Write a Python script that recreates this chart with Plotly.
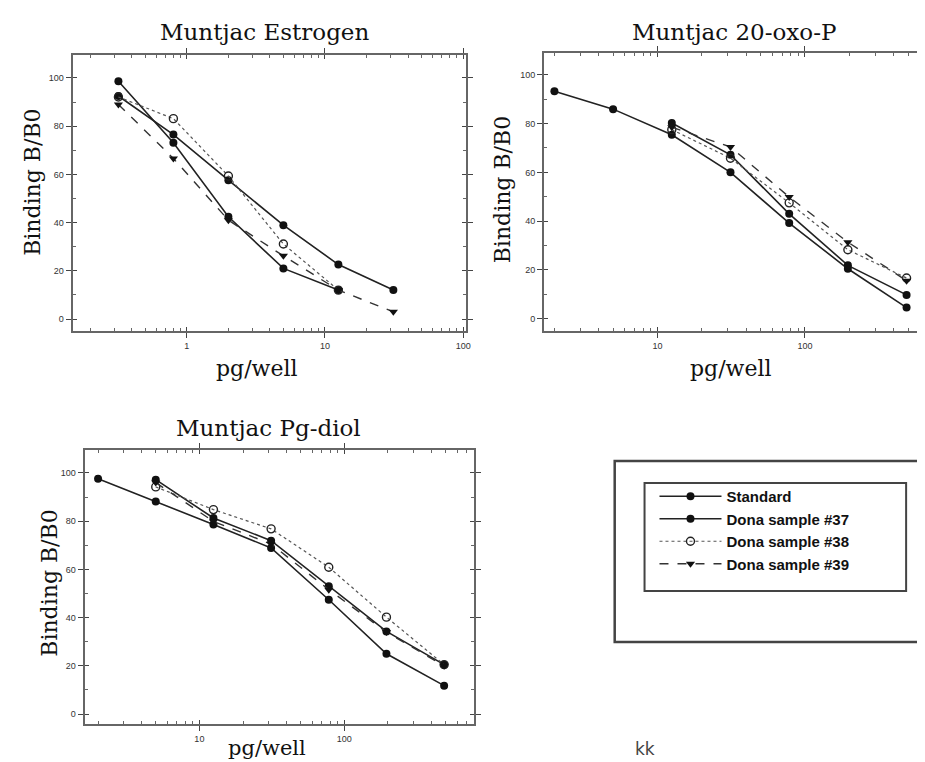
import plotly.graph_objects as go

W, H = 925, 762

# ---------------- data ----------------
series_names = ["Standard", "Dona sample #37", "Dona sample #38", "Dona sample #39"]

x_est = [0.32, 0.8, 2, 5, 12.5, 31.25]
est_standard = [92.5, 76.5, 57.6, 38.9, 22.6, 12.0]
est_d37 = [98.6, 73.1, 42.4, 21.0, 12.0]
est_d38 = [92.1, 83.1, 59.3, 31.1, 12.0]
est_d39 = [89.0, 66.6, 41.0, 26.2, 12.0, 3.0]

x_oxo = [2, 5, 12.5, 31.25, 78.125, 195.3, 488.3]
oxo_standard = [93.2, 85.9, 75.4, 60.0, 39.2, 20.5, 4.6]
oxo_d37 = [80.2, 67.2, 43.0, 21.9, 9.8]
oxo_d38 = [77.5, 65.8, 47.5, 28.3, 16.7]
oxo_d39 = [78.5, 70.4, 49.9, 31.4, 15.6]

x_diol = [2, 5, 12.5, 31.25, 78.125, 195.3, 488.3]
diol_standard = [97.6, 88.2, 78.6, 68.9, 47.4, 25.0, 11.8]
diol_d37 = [97.2, 81.3, 71.9, 53.0, 34.3, 20.5]
diol_d38 = [94.2, 84.8, 76.8, 60.9, 40.2, 20.5]
diol_d39 = [96.0, 79.9, 70.5, 51.6, 34.0, 20.0]

titles = ["Muntjac Estrogen", "Muntjac 20-oxo-P", "Muntjac Pg-diol"]
y_title = "Binding B/B0"
x_title = "pg/well"
x_tickvals = [1, 10, 100]
x_ticktext = ["1", "10", "100"]
y_tickvals = [0, 20, 40, 60, 80, 100]

# ---------------- helpers ----------------
def px(x):
    return x / W

def py(y):
    return 1 - y / H

SERIF = "DejaVu Serif"
SANS = "Liberation Sans"
LINE_C = "#222"

styles = [
    dict(line=dict(color=LINE_C, width=1.6, dash="solid"),
         marker=dict(symbol="circle", size=8, color="#111")),
    dict(line=dict(color=LINE_C, width=1.6, dash="solid"),
         marker=dict(symbol="circle", size=8, color="#111")),
    dict(line=dict(color="#555", width=1.2, dash="dot"),
         marker=dict(symbol="circle-open", size=8, color="#222", line=dict(width=1.4))),
    dict(line=dict(color="#333", width=1.4, dash="dash"),
         marker=dict(symbol="triangle-down", size=8, color="#111")),
]

fig = go.Figure()

panels = [
    dict(xs=[x_est, x_est[:len(est_d37)], x_est[:len(est_d38)], x_est],
         ys=[est_standard, est_d37, est_d38, est_d39],
         dom_x=(px(65), px(460)), dom_y=(py(323), py(47)),
         xr=(-0.826, 2.017), yr=(-4.97, 109.5), mirror_y=True),
    dict(xs=[x_oxo, x_oxo[2:], x_oxo[2:], x_oxo[2:]],
         ys=[oxo_standard, oxo_d37, oxo_d38, oxo_d39],
         dom_x=(px(539), 1.0), dom_y=(py(323), py(45)),
         xr=(0.231, 2.834), yr=(-5.0, 108.9), mirror_y=False),
    dict(xs=[x_diol, x_diol[1:], x_diol[1:], x_diol[1:]],
         ys=[diol_standard, diol_d37, diol_d38, diol_d39],
         dom_x=(px(77), px(469)), dom_y=(py(716), py(442)),
         xr=(0.208, 2.898), yr=(-4.1, 109.5), mirror_y=True),
]

minor_x = [m * 10 ** k for k in range(-1, 3) for m in range(2, 10)]

layout_axes = {}
for i, p in enumerate(panels):
    n = i + 1
    no = n + 3  # overlay axis index for crossing ticks
    xa = "x" if n == 1 else f"x{n}"
    ya = "y" if n == 1 else f"y{n}"
    xo = f"x{no}"
    yo = f"y{no}"
    tick_font = dict(family=SANS, size=9, color="#333")
    layout_axes["xaxis" if n == 1 else f"xaxis{n}"] = dict(
        type="log", range=list(p["xr"]), domain=list(p["dom_x"]), anchor=ya,
        showline=True, linecolor="#666", linewidth=2, mirror="ticks",
        ticks="outside", ticklen=5, tickwidth=1, tickcolor="#444",
        tickmode="array", tickvals=x_tickvals, ticktext=x_ticktext,
        tickfont=tick_font, showgrid=False, zeroline=False,
        minor=dict(ticks="inside", ticklen=3, tickwidth=1, tickcolor="#666",
                   tickmode="array", tickvals=minor_x, showgrid=False),
    )
    layout_axes["yaxis" if n == 1 else f"yaxis{n}"] = dict(
        range=list(p["yr"]), domain=list(p["dom_y"]), anchor=xa,
        showline=True, linecolor="#666", linewidth=2,
        mirror="ticks" if p["mirror_y"] else False,
        ticks="outside", ticklen=5, tickwidth=1, tickcolor="#444",
        tickmode="array", tickvals=y_tickvals,
        tickfont=tick_font, showgrid=False, zeroline=False,
        minor=dict(ticks="inside", ticklen=3, tickwidth=1, tickcolor="#666",
                   dtick=10, showgrid=False),
    )
    layout_axes[f"xaxis{no}"] = dict(
        type="log", range=list(p["xr"]), overlaying=xa, anchor=yo,
        showline=False, mirror="ticks", ticks="inside", ticklen=4, tickwidth=1,
        tickcolor="#444", tickmode="array", tickvals=x_tickvals,
        showticklabels=False, showgrid=False, zeroline=False,
    )
    layout_axes[f"yaxis{no}"] = dict(
        range=list(p["yr"]), overlaying=ya, anchor=xo,
        showline=False, mirror="ticks" if p["mirror_y"] else False,
        ticks="inside", ticklen=4, tickwidth=1,
        tickcolor="#444", tickmode="array", tickvals=y_tickvals,
        showticklabels=False, showgrid=False, zeroline=False,
    )
    for s in range(4):
        on_overlay = (s == 3)
        fig.add_trace(go.Scatter(
            x=p["xs"][s], y=p["ys"][s], mode="lines+markers",
            name=series_names[s], legendgroup=series_names[s],
            showlegend=(i == 0),
            xaxis=xo if on_overlay else xa,
            yaxis=yo if on_overlay else ya,
            line=styles[s]["line"], marker=styles[s]["marker"],
        ))

annotations = []
# panel titles
for t, (cx, cy) in zip(titles, [(258, 24), (730, 24), (262, 420)]):
    annotations.append(dict(text=t, x=px(cx), y=py(cy), xref="paper", yref="paper",
                            showarrow=False, xanchor="center", yanchor="middle",
                            font=dict(family=SERIF, size=23, color="#111")))
# y titles
for (cx, cy) in [(24, 174), (497, 182), (41, 575)]:
    annotations.append(dict(text=y_title, x=px(cx), y=py(cy), xref="paper", yref="paper",
                            showarrow=False, textangle=-90, xanchor="center", yanchor="middle",
                            font=dict(family=SERIF, size=22, color="#111")))
# x titles
for (cx, cy, fs) in [(250, 360, 22), (727, 360, 22), (260, 740, 21)]:
    annotations.append(dict(text=x_title, x=px(cx), y=py(cy), xref="paper", yref="paper",
                            showarrow=False, xanchor="center", yanchor="middle",
                            font=dict(family=SERIF, size=fs, color="#111")))
# stray text
annotations.append(dict(text="kk", x=px(640), y=py(741), xref="paper", yref="paper",
                        showarrow=False, xanchor="center", yanchor="middle",
                        font=dict(family="DejaVu Sans", size=17, color="#444")))

shapes = [
    dict(type="rect", xref="paper", yref="paper", x0=px(610), x1=px(940),
         y0=py(634), y1=py(453), line=dict(color="#444", width=2.5)),
    dict(type="rect", xref="paper", yref="paper", x0=px(640), x1=px(903),
         y0=py(583), y1=py(475), line=dict(color="#444", width=2)),
]

fig.update_layout(
    width=W, height=H,
    margin=dict(l=0, r=0, t=0, b=0),
    paper_bgcolor="white", plot_bgcolor="white",
    showlegend=True,
    legend=dict(x=px(650), y=py(472), xanchor="left", yanchor="top",
                bgcolor="rgba(0,0,0,0)", borderwidth=0, itemwidth=62,
                traceorder="normal", tracegroupgap=0,
                font=dict(family=SANS, size=15, color="#111", weight="bold")),
    annotations=annotations,
    shapes=shapes,
    **layout_axes,
)

fig.write_html("out.html")
